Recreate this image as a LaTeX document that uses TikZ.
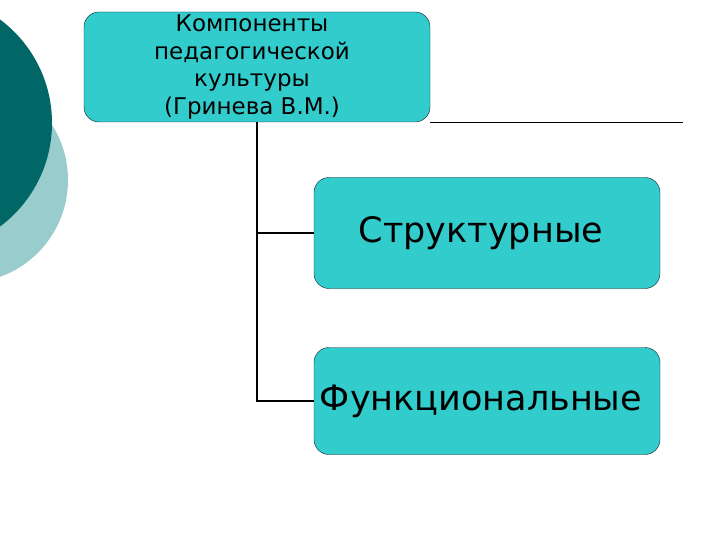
\documentclass[tikz,border=0pt]{standalone}
\usepackage{fontspec}
\setmainfont{DejaVu Sans}
\definecolor{tealbox}{HTML}{33CCCC}
\definecolor{tealdark}{HTML}{006666}
\definecolor{teallight}{HTML}{99CCCC}
\definecolor{boxline}{HTML}{0D1F2D}
\tikzset{
  compbox/.style={draw=boxline, fill=tealbox, rounded corners=15pt,
    minimum width=346pt, inner sep=0pt},
  branch/.style={draw=black, line width=1.5pt}
}
% invisible padding to pull a centred text line to the left
\newcommand{\padr}[1]{\rule{#1}{0pt}}
\begin{document}
\begin{tikzpicture}[x=1pt, y=-1pt]
  \useasboundingbox (0,0) rectangle (720,540);

  % Background circles
  \fill[teallight] (-35,180) circle (103);
  \fill[tealdark] (-77,123) circle (129);

  % Title box and rule
  \node[compbox, minimum height=110pt, align=center,
    font=\fontsize{23}{27.5}\selectfont] (top) at (257,67)
    {Компоненты\padr{10pt}\\педагогической\padr{10pt}\\%
     культуры\padr{10pt}\\(Гринева В.М.)\padr{10pt}};
  \coordinate (ruleend) at (683,122);
  \draw[line width=1pt] (top.south east) -- (top.south east -| ruleend);

  % Component boxes
  \node[compbox, minimum height=111pt,
    font=\fontsize{35}{40}\selectfont] (struct) at (487,233)
    {Структурные\padr{12pt}};
  \node[compbox, minimum height=107pt,
    font=\fontsize{35}{40}\selectfont] (func) at (487,401)
    {Функциональные\padr{12pt}};

  % Tree connectors
  \draw[branch] (top.south) |- (func.west);
  \draw[branch] (top.south |- struct.west) -- (struct.west);
\end{tikzpicture}
\end{document}
